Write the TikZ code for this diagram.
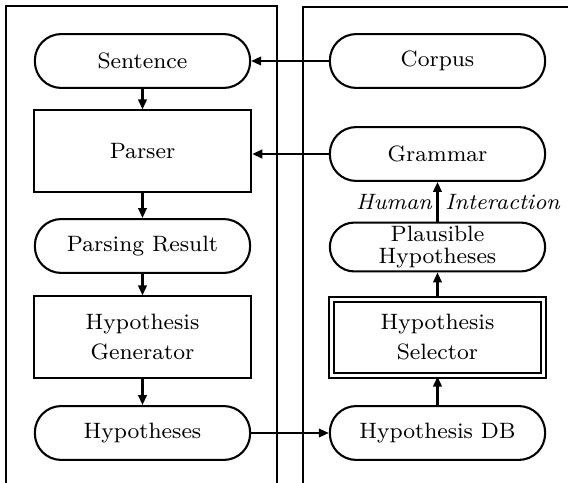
\documentclass[tikz,border=0pt]{standalone}
\usetikzlibrary{arrows.meta}

\begin{document}
\begin{tikzpicture}[x=0.36pt,y=-0.36pt,
	font=\fontsize{8}{10.8}\selectfont,
	frame/.style={line width=0.45pt},
	term/.style={draw,line width=0.75pt,rounded corners=9.5pt,minimum width=77.5pt,minimum height=19.4pt,inner sep=0pt,align=center},
	proc/.style={draw,line width=0.75pt,minimum width=78.3pt,minimum height=29.2pt,inner sep=0pt,align=center},
	flow/.style={line width=0.75pt,-{Triangle[length=3.6pt,width=3.1pt]}}]
	\useasboundingbox (0,0) rectangle (568,483);
	% draw panels
	\draw[frame] (6,483) -- (6,6) -- (277,6) -- (277,483);
	\draw[frame] (303,483) -- (303,7) -- (568,7);
	% left column
	\node[term] (sentence) at (142.5,61) {Sentence};
	\node[proc] (parser) at (142.5,151) {Parser};
	\node[term] (result) at (142.5,246) {Parsing Result};
	\node[proc] (generator) at (142.5,337) {Hypothesis\\Generator};
	\node[term] (hypotheses) at (142.5,433) {Hypotheses};
	% right column
	\node[term] (corpus) at (437.5,61) {Corpus};
	\node[term] (grammar) at (437.5,154) {Grammar};
	\node[term,minimum height=17.6pt,rounded corners=8.8pt] (plausible) at (437.5,247) {Plausible\\[-2.8pt]Hypotheses};
	\node[proc,double,double distance=1.1pt,minimum width=76.5pt,minimum height=27.4pt] (selector) at (437.5,337.5) {Hypothesis\\Selector};
	\node[term] (db) at (437.5,433) {Hypothesis DB};
	% draw flow
	\draw[flow] (sentence) -- (parser);
	\draw[flow] (parser) -- (result);
	\draw[flow] (result) -- (generator);
	\draw[flow] (generator) -- (hypotheses);
	\draw[flow] (db) -- (selector);
	\draw[flow] (selector) -- (plausible);
	\draw[flow] (plausible) -- (grammar)
		node[midway,left,inner sep=1.5pt] {\textit{Human}}
		node[midway,right,inner sep=2.5pt] {\textit{Interaction}};
	\draw[flow] (corpus) -- (sentence);
	\draw[flow] (grammar.west) -- (grammar.west -| parser.east);
	\draw[flow] (hypotheses) -- (db);
\end{tikzpicture}
\end{document}
